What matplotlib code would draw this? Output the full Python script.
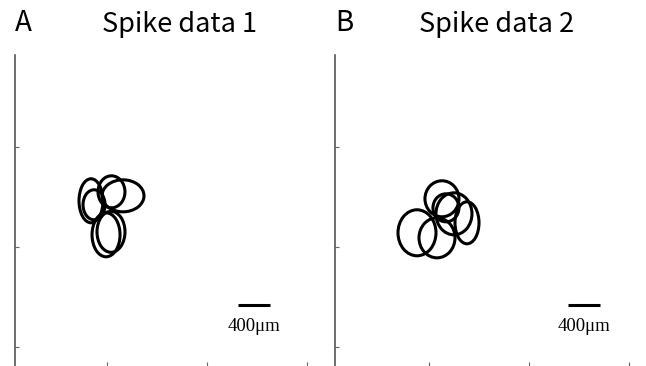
import matplotlib
matplotlib.use('Agg')
import matplotlib.pyplot as plt
from matplotlib.patches import Ellipse

# place-field ellipses (centre x, centre y, width, height) in um
cx1 = [-200, -162, 56, 200, -12, 50]
cy1 = [1825, 1775, 1937, 1887, 1400, 1437]
w1 = [300, 275, 337, 525, 350, 350]
h1 = [550, 375, 400, 400, 550, 512]

cx2 = [162, 212, 312, 475, -150, 100]
cy2 = [1850, 1737, 1662, 1550, 1425, 1362]
w2 = [425, 325, 450, 300, 475, 450]
h2 = [450, 350, 525, 525, 575, 500]

titles = ['Spike data 1', 'Spike data 2']
letters = ['A', 'B']
ticks = [0, 1250, 2500]
bar_len = 400

plt.rcParams['font.family'] = ['Noto Sans CJK JP', 'DejaVu Sans']

W, H = 646, 366
fig = plt.figure(figsize=(W / 100, H / 100), dpi=100)

panels = [
    (15, (-1150, 2600), cx1, cy1, w1, h1, 1637),
    (335, (-1175, 2575), cx2, cy2, w2, h2, 1737),
]

for i, (left, xl, cx, cy, ww, hh, bx) in enumerate(panels):
    ax = fig.add_axes([left / W, 0, 300 / W, 311 / H])
    for x, y, a, b in zip(cx, cy, ww, hh):
        ax.add_patch(Ellipse((x, y), a, b, fill=False, lw=2.2, ec='black'))
    ax.plot([bx, bx + bar_len], [525, 525], color='black', lw=2.2, solid_capstyle='butt')
    ax.text(bx + bar_len / 2, 250, '400\u03bcm', ha='center', va='center',
            family='Liberation Serif', fontsize=13.5)
    ax.set_xlim(xl)
    ax.set_ylim(-240, 3647)
    ax.set_xticks(ticks)
    ax.set_yticks(ticks)
    ax.set_xticklabels([])
    ax.set_yticklabels([])
    ax.tick_params(direction='in', length=3, width=0.8, color='#666666')
    for s in ['top', 'right', 'bottom']:
        ax.spines[s].set_visible(False)
    ax.spines['left'].set_color('#555555')
    ax.spines['left'].set_linewidth(1.2)
    ax.set_facecolor('none')

    fig.text((left + 0) / W, 1 - 23 / H, letters[i], fontsize=20, va='center', ha='left')
    fig.text((179 + 318 * i) / W, 1 - 25 / H, titles[i], fontsize=19.5, va='center', ha='center')

fig.savefig('out.png', dpi=100)
